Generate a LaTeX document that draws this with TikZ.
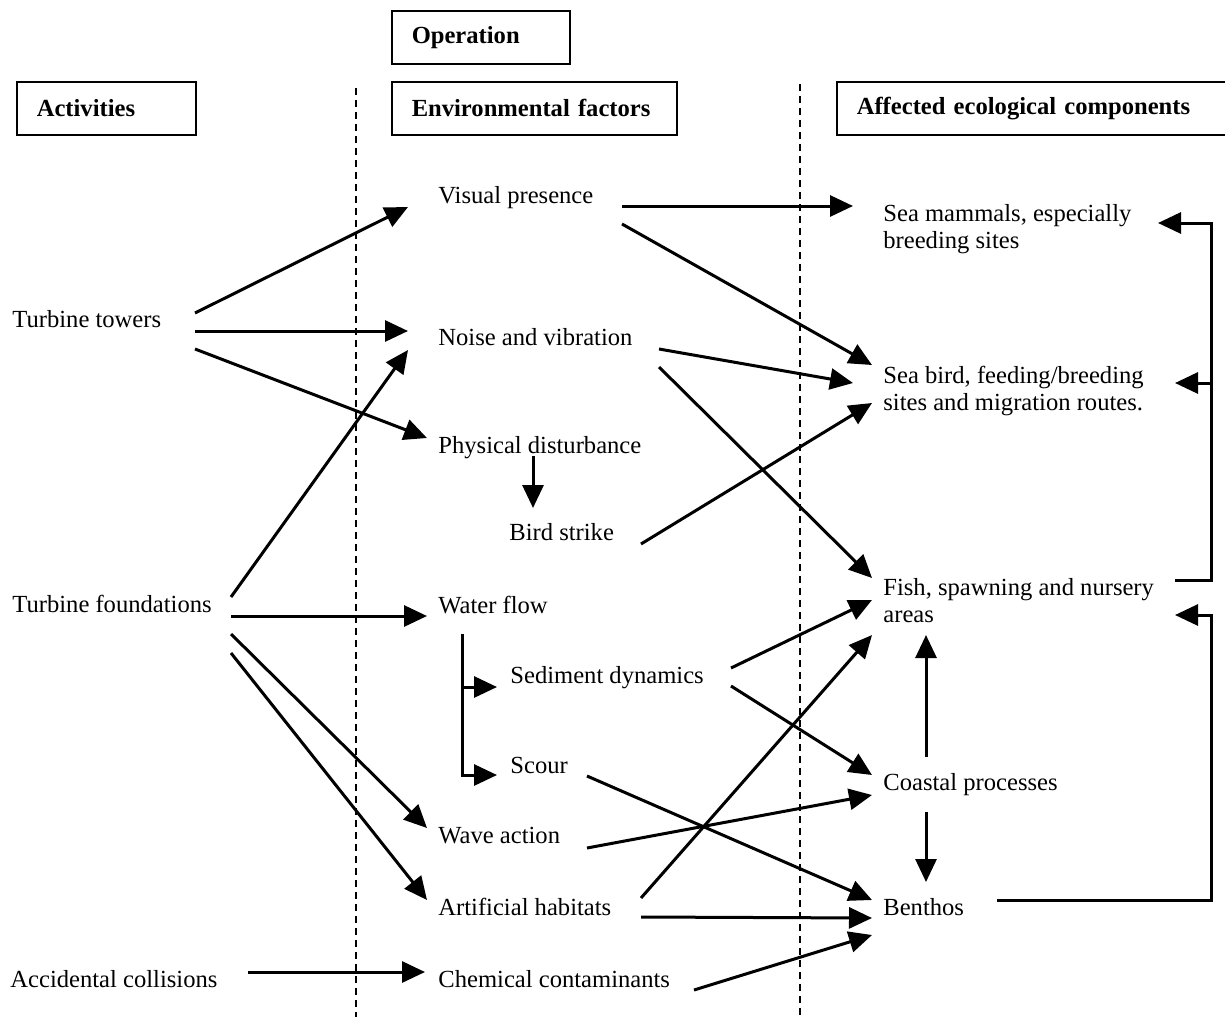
\documentclass[tikz,border=0pt]{standalone}
\usepackage{fontspec}
\setmainfont{Liberation Serif}
\usetikzlibrary{arrows.meta}

\begin{document}
\begin{tikzpicture}[x=0.5pt, y=-0.5pt,
        every node/.style={font=\fontsize{12.3pt}{13.5pt}\selectfont},
        item/.style={anchor=base west, inner sep=0pt, align=left},
        header/.style={draw, line width=0.75pt, anchor=north west, inner xsep=10pt, inner ysep=0pt,
            minimum height=26.5pt, align=left, font=\fontsize{12.3pt}{13.5pt}\selectfont\bfseries},
        arr/.style={line width=1.5pt, -{Triangle[length=11.5pt, width=10.5pt]}}]
        \useasboundingbox (0,0) rectangle (1225,1017);

        % column separators
        \foreach \x/\y in {356/88, 800/84}
            \draw[line width=1pt, dash pattern=on 3.5pt off 2.5pt] (\x,\y) -- (\x,1017);

        % headers
        \node[header, text width=69pt] (hop) at (391,10) {Operation};
        \node[header, text width=69.5pt] (hact) at (16,81) {Activities};
        \node[header, text width=122.5pt] (henv) at (391,81) {Environmental factors};
        \node[header, text width=182pt] (heco) at (836,81) {Affected ecological components};

        % activities
        \node[item] (tt) at (12,327) {Turbine towers};
        \node[item] (tf) at (12,612) {Turbine foundations};
        \node[item] (ac) at (10,987) {Accidental collisions};

        % environmental factors
        \node[item] (vp) at (438,203) {Visual presence};
        \node[item] (nv) at (438,345) {Noise and vibration};
        \node[item] (pd) at (438,453) {Physical disturbance};
        \node[item] (bs) at (509,540) {Bird strike};
        \node[item] (wf) at (438,613) {Water flow};
        \node[item] (sd) at (510,683) {Sediment dynamics};
        \node[item] (sc) at (510,773) {Scour};
        \node[item] (wa) at (438,843) {Wave action};
        \node[item] (ah) at (438,915) {Artificial habitats};
        \node[item] (cc) at (438,987) {Chemical contaminants};

        % ecological components (base = last line)
        \node[item] (sm) at (883,248) {Sea mammals, especially\\breeding sites};
        \node[item] (sb) at (883,410) {Sea bird, feeding/breeding\\sites and migration routes.};
        \node[item] (fi) at (883,622) {Fish, spawning and nursery\\areas};
        \node[item] (cp) at (883,790) {Coastal processes};
        \node[item] (be) at (883,915) {Benthos};

        % activities -> factors
        \draw[arr] ([shift={(183,-14)}]tt.base west) -- ([shift={(-30,4)}]vp.base west);
        \draw[arr] ([shift={(183,4)}]tt.base west) -- ([shift={(-30,-14)}]nv.base west);
        \draw[arr] ([shift={(183,22)}]tt.base west) -- ([shift={(-11,-15)}]pd.base west);
        \draw[arr] ([shift={(219,-15)}]tf.base west) -- ([shift={(-30,5)}]nv.base west);
        \draw[arr] ([shift={(219,4)}]tf.base west) -- ([shift={(-11,3)}]wf.base west);
        \draw[arr] ([shift={(219,22)}]tf.base west) -- ([shift={(-11,-15)}]wa.base west);
        \draw[arr] ([shift={(219,41)}]tf.base west) -- ([shift={(-11,-15)}]ah.base west);
        \draw[arr] ([shift={(238,-15)}]ac.base west) -- ([shift={(-13,-15)}]cc.base west);

        % within factors
        \draw[arr] ([shift={(95,3)}]pd.base west) -- ([shift={(24,-32)}]bs.base west);
        \draw[arr] ([shift={(24,21)}]wf.base west) |- ([shift={(-13,2)}]sc.base west);
        \draw[arr] ([shift={(24,74)}]wf.base west) -- ([shift={(-13,4)}]sd.base west);

        % factors -> components
        \draw[arr] ([shift={(184,3)}]vp.base west) -- ([shift={(-30,-42)}]sm.base west);
        \draw[arr] ([shift={(184,21)}]vp.base west) -- ([shift={(-11,-45)}]sb.base west);
        \draw[arr] ([shift={(221,4)}]nv.base west) -- ([shift={(-30,-27)}]sb.base west);
        \draw[arr] ([shift={(221,22)}]nv.base west) -- ([shift={(-11,-44)}]fi.base west);
        \draw[arr] ([shift={(132,4)}]bs.base west) -- ([shift={(-11,-7)}]sb.base west);
        \draw[arr] ([shift={(221,-15)}]sd.base west) -- ([shift={(-11,-22)}]fi.base west);
        \draw[arr] ([shift={(221,3)}]sd.base west) -- ([shift={(-11,-15)}]cp.base west);
        \draw[arr] ([shift={(77,3)}]sc.base west) -- ([shift={(-11,-15)}]be.base west);
        \draw[arr] ([shift={(149,5)}]wa.base west) -- ([shift={(-11,5)}]cp.base west);
        \draw[arr] ([shift={(203,-17)}]ah.base west) -- ([shift={(-11,13)}]fi.base west);
        \draw[arr] ([shift={(203,2)}]ah.base west) -- ([shift={(-11,3)}]be.base west);
        \draw[arr] ([shift={(256,3)}]cc.base west) -- ([shift={(-11,20)}]be.base west);

        % within components
        \draw[arr] ([shift={(43,-33)}]cp.base west) -- ([shift={(43,13)}]fi.base west);
        \draw[arr] ([shift={(43,22)}]cp.base west) -- ([shift={(43,-33)}]be.base west);
        \draw[arr] ([shift={(114,-15)}]be.base west) -- ++(214,0) |- ([shift={(292,-7)}]fi.base west);
        \draw[arr] ([shift={(292,-42)}]fi.base west) -- ++(36,0) |- ([shift={(275,-25)}]sm.base west);
        \draw[arr] ([shift={(328,-27)}]sb.base west) -- ([shift={(292,-27)}]sb.base west);
    \end{tikzpicture}
\end{document}
